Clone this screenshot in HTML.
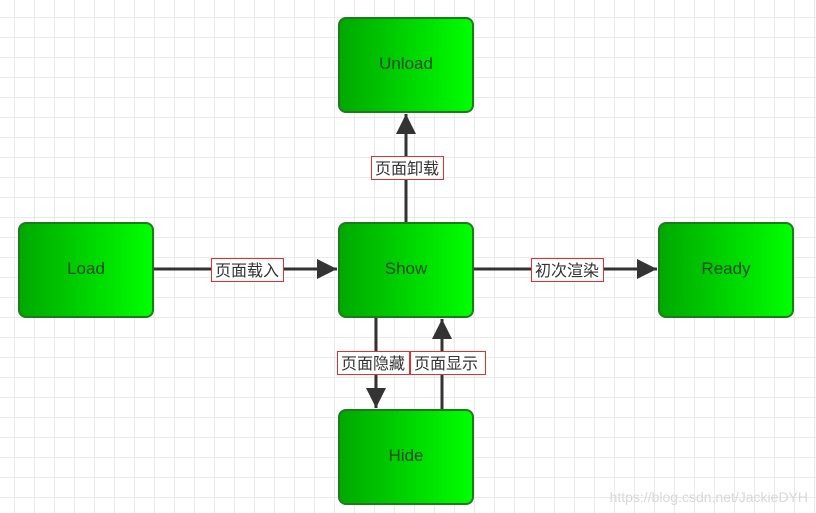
<!DOCTYPE html>
<html><head><meta charset="utf-8"><style>
html,body{margin:0;padding:0;background:#fff}
svg{display:block}
.n{font-family:"Liberation Sans",sans-serif;font-size:17px;fill:#1a4a1a;text-anchor:middle}
.l{font-family:"Liberation Sans","Noto Sans CJK SC",sans-serif;font-size:16px;fill:#333;text-anchor:middle}
</style></head><body>
<svg width="816" height="513" viewBox="0 0 816 513" xmlns="http://www.w3.org/2000/svg">
<defs>
<pattern id="g" x="14" y="17" width="20" height="20" patternUnits="userSpaceOnUse">
<path d="M0 0H20M0 0V20" stroke="#e4e4e4" stroke-width="1.5" fill="none"/>
</pattern>
<linearGradient id="gr" x1="0" x2="1" y1="0" y2="0">
<stop offset="0" stop-color="#00a800"/><stop offset="1" stop-color="#00ff00"/>
</linearGradient>
<marker id="a" viewBox="0 0 10 10" refX="10" refY="5" markerWidth="20" markerHeight="20" markerUnits="userSpaceOnUse" orient="auto">
<path d="M0 0L10 5L0 10Z" fill="#333"/>
</marker>
</defs>
<rect width="816" height="513" fill="url(#g)"/>
<g stroke="#333" stroke-width="3" fill="none">
<line x1="154" y1="269" x2="337" y2="269" marker-end="url(#a)"/>
<line x1="474" y1="269" x2="657" y2="269" marker-end="url(#a)"/>
<line x1="406" y1="222" x2="406" y2="114" marker-end="url(#a)"/>
<line x1="376" y1="318" x2="376" y2="408" marker-end="url(#a)"/>
<line x1="442" y1="409" x2="442" y2="319" marker-end="url(#a)"/>
</g>
<g fill="url(#gr)" stroke="#1f7a1f" stroke-width="2">
<rect x="339" y="18" width="134" height="94" rx="7"/>
<rect x="19" y="223" width="134" height="94" rx="7"/>
<rect x="339" y="223" width="134" height="94" rx="7"/>
<rect x="659" y="223" width="134" height="94" rx="7"/>
<rect x="339" y="410" width="134" height="94" rx="7"/>
</g>
<text class="n" x="406" y="69">Unload</text>
<text class="n" x="86" y="274">Load</text>
<text class="n" x="406" y="274">Show</text>
<text class="n" x="726" y="274">Ready</text>
<text class="n" x="406" y="461">Hide</text>
<g fill="#fff" stroke="#e03030" stroke-width="1">
<rect x="211.5" y="258.5" width="72" height="23"/>
<rect x="531.5" y="258.5" width="72" height="23"/>
<rect x="371.5" y="156.5" width="72" height="23"/>
<rect x="337.5" y="351.5" width="72" height="23"/>
<rect x="410.5" y="351.5" width="75" height="23"/>
</g>
<text class="l" x="247" y="276">页面载入</text>
<text class="l" x="567" y="276">初次渲染</text>
<text class="l" x="407" y="174">页面卸载</text>
<text class="l" x="373" y="369">页面隐藏</text>
<text class="l" x="446" y="369">页面显示</text>
<text x="808" y="502" text-anchor="end" font-family="Liberation Sans,sans-serif" font-size="14" fill="#d8d8d8">https://blog.csdn.net/JackieDYH</text>
</svg>
</body></html>
